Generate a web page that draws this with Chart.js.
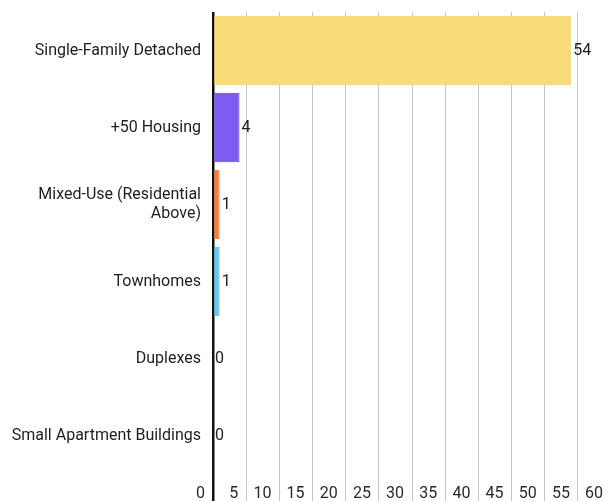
<!DOCTYPE html>
<html lang="en">
<head>
    <meta charset="utf-8">
    <script src="https://cdn.jsdelivr.net/npm/chart.js"></script>
    <style>
        html, body { margin: 0; padding: 0; background: #ffffff; }
        .chart-box { width: 611px; height: 501px; position: relative; }
    </style>
</head>
<body>
    <div class="chart-box">
        <canvas id="housingChart"></canvas>
    </div>

    <script>
        // chart data
        const categories = [
            'Single-Family Detached',
            '+50 Housing',
            ['Mixed-Use (Residential', 'Above)'],
            'Townhomes',
            'Duplexes',
            'Small Apartment Buildings'
        ];
        const counts = [54, 4, 1, 1, 0, 0];
        const barColors = ['#f9dc78', '#7c5cf1', '#fd7a38', '#63c6ee', '#9e9e9e', '#9e9e9e'];
        const barBorders = ['#f3d46c', '#5b3ae0', '#f06a28', '#4fb8e4', '#9e9e9e', '#9e9e9e'];
        const xTicks = [0, 5, 10, 15, 20, 25, 30, 35, 40, 45, 50, 55, 60];

        const textColor = '#1e1e1e';
        const fontFamily = 'Roboto, "Noto Sans", sans-serif';

        // value labels to the right of each bar
        const valueLabels = {
            id: 'valueLabels',
            afterDatasetsDraw(chart) {
                const ctx = chart.ctx;
                const meta = chart.getDatasetMeta(0);
                ctx.save();
                ctx.font = '16px ' + fontFamily;
                ctx.fillStyle = textColor;
                ctx.textAlign = 'left';
                ctx.textBaseline = 'middle';
                meta.data.forEach((bar, i) => {
                    ctx.fillText(String(counts[i]), bar.x + 2, bar.y);
                });
                ctx.restore();
            }
        };

        new Chart(document.getElementById('housingChart'), {
            type: 'bar',
            data: {
                labels: categories,
                datasets: [{
                    data: counts,
                    backgroundColor: barColors,
                    borderColor: barBorders,
                    borderWidth: 1,
                    barPercentage: 0.9,
                    categoryPercentage: 1.0
                }]
            },
            options: {
                indexAxis: 'y',
                responsive: true,
                maintainAspectRatio: false,
                animation: false,
                layout: { padding: { top: 12, right: 0, bottom: 0, left: 0 } },
                plugins: {
                    legend: { display: false },
                    tooltip: { enabled: false }
                },
                scales: {
                    x: {
                        min: 0,
                        max: 60,
                        afterFit: (s) => { s.height = 27; s.paddingLeft = 0; s.paddingRight = 0; },
                        afterBuildTicks: (s) => { s.ticks = xTicks.map(v => ({ value: v })); },
                        border: { display: false },
                        grid: {
                            color: (c) => c.tick && c.tick.value === 0 ? '#111111' : '#c4c4c4',
                            lineWidth: (c) => c.tick && c.tick.value === 0 ? 2.5 : 1,
                            tickLength: 27,
                            drawTicks: true
                        },
                        ticks: {
                            align: 'end',
                            padding: -17,
                            maxRotation: 0,
                            autoSkip: false,
                            color: '#2a2a2a',
                            font: { family: fontFamily, size: 16 },
                            callback: (v) => v + '  '
                        }
                    },
                    y: {
                        afterFit: (s) => { s.width = 213; s.paddingTop = 0; s.paddingBottom = 0; },
                        border: { display: false },
                        grid: { display: false, drawTicks: false },
                        ticks: {
                            padding: 12,
                            color: textColor,
                            font: { family: fontFamily, size: 16 }
                        }
                    }
                }
            },
            plugins: [valueLabels]
        });
    </script>
</body>
</html>
